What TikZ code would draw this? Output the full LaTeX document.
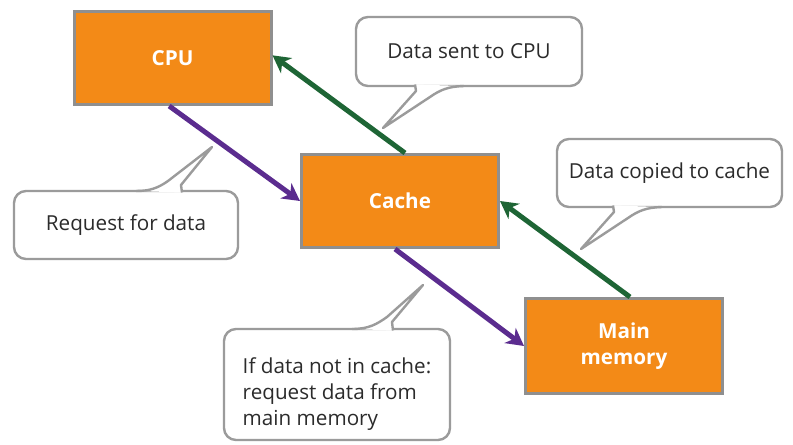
\documentclass[tikz,border=0pt]{standalone}
\usepackage{fontspec}
\setmainfont{Open Sans}
\usepackage{tikz}
\usetikzlibrary{arrows.meta}
\definecolor{boxOrange}{HTML}{F38A17}
\definecolor{boxGrey}{HTML}{8F8F8F}
\definecolor{noteGrey}{HTML}{9B9B9B}
\definecolor{reqPurple}{HTML}{5B2C8F}
\definecolor{dataGreen}{HTML}{1E6535}
\definecolor{noteText}{HTML}{2B2B2B}
\begin{document}
\begin{tikzpicture}[x=0.75pt,y=-0.75pt,>={Stealth[length=13pt,width=14pt,inset=4pt]},
  memunit/.style={draw=boxGrey,line width=2.25pt,fill=boxOrange,text=white,font=\fontsize{15.5}{20}\selectfont\bfseries,align=center,minimum width=147.75pt,minimum height=69.75pt,inner sep=0pt},
  note/.style={draw=noteGrey,line width=1.8pt,fill=white,rounded corners=9pt,text=noteText,font=\fontsize{15.5}{19.5}\selectfont,inner sep=0pt},
  tail/.style={draw=noteGrey,line width=1.8pt,fill=white,line join=round},
  request/.style={->,draw=reqPurple,line width=3.75pt},
  reply/.style={->,draw=dataGreen,line width=3.75pt}]
\useasboundingbox (0,0) rectangle (793,445);
\node[memunit] (cpu) at (172.5,58) {CPU};
\node[memunit] (cache) at (400,201) {Cache};
\node[memunit,minimum height=71.25pt] (main) at (624,346) {Main\\memory};
\draw[request] ([xshift=-2.5pt]cpu.south) -- (cache.west);
\draw[request] ([xshift=-3.75pt]cache.south) -- (main.west);
\draw[reply] ([xshift=3.75pt]cache.north) -- ([yshift=2pt]cpu.east);
\draw[reply] ([xshift=4.5pt]main.north) -- (cache.east);
\node[note,minimum width=169.5pt,minimum height=51.75pt] (sent) at (469,51.5) {Data sent to CPU};
\node[note,minimum width=168.75pt,minimum height=51pt] (copied) at (669.5,173) {Data copied to cache};
\node[note,minimum width=168pt,minimum height=51pt] (asked) at (126,225) {Request for data};
\node[note,minimum width=169.5pt,minimum height=83.25pt,align=left,text height=65pt] (miss) at (337,384.5) {If data not in cache:\\request data from\\main memory};
\coordinate (senttip) at (383,128);
\coordinate (copiedtip) at (581,249);
\coordinate (askedtip) at (212,147);
\coordinate (misstip) at (423,285);
\draw[tail] (415,84.5) -- (416,91) -- (senttip) -- (430,97) .. controls (440,90) and (448,86.5) .. (464,86);
\draw[tail] (613,205.5) -- (614,212) -- (copiedtip) -- (628,218) .. controls (638,211) and (646,207.5) .. (662,207);
\draw[tail] (182,192.5) -- (181,185) -- (askedtip) -- (168,181) .. controls (158,188) and (150,191) .. (136,191);
\draw[tail] (393,330.5) -- (392,322) -- (misstip) -- (387,317) .. controls (377,324) and (369,329) .. (352,329);
\end{tikzpicture}
\end{document}
